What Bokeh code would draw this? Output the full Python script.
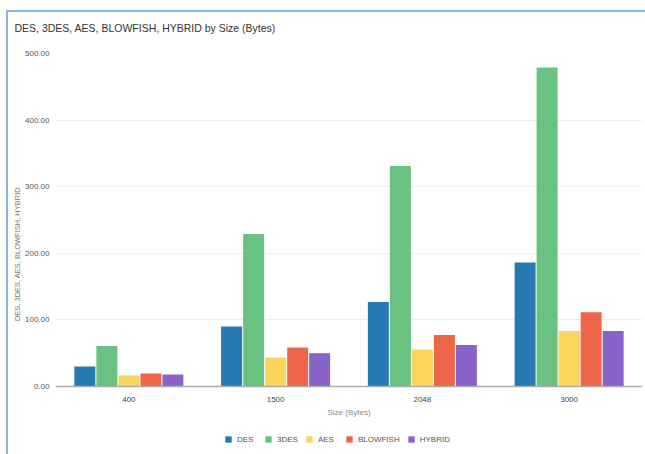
from bokeh.plotting import figure
from bokeh.models import (ColumnDataSource, FactorRange, NumeralTickFormatter, FixedTicker,
                          Legend, LegendItem)
from bokeh.transform import dodge
from bokeh.embed import file_html
from bokeh.resources import INLINE

sizes = ["400", "1500", "2048", "3000"]
des = [30, 90, 127, 186]
tdes = [61, 229, 331, 479]
aes = [16.5, 43.5, 55.5, 83.5]
blowfish = [19.5, 58.5, 77.5, 111.5]
hybrid = [18, 50, 62.5, 83.5]
series = ["DES", "3DES", "AES", "BLOWFISH", "HYBRID"]
colors = ["#2779b3", "#69c182", "#f9d55c", "#ee6649", "#8963c8"]
y_ticks = [0, 100, 200, 300, 400, 500]

src = ColumnDataSource(dict(x=sizes, DES=des, TDES=tdes, AES=aes, BLOWFISH=blowfish, HYBRID=hybrid))
cols = ["DES", "TDES", "AES", "BLOWFISH", "HYBRID"]

FONT = "Liberation Sans"
p = figure(frame_width=587, frame_height=401, x_range=FactorRange(*sizes), y_range=(-102.1, 500),
           output_backend="svg", toolbar_location=None,
           min_border_left=55, min_border_right=3, min_border_top=53, min_border_bottom=0)
line = "linear-gradient(#86b6e6, #86b6e6)"
p.styles = {"background": f"{line} 6px 10px / 2px 100% no-repeat, {line} 6px 10px / 100% 2px no-repeat, white"}
p.background_fill_color = "white"
p.border_fill_alpha = 0
p.outline_line_color = None

offsets = [-0.3, -0.15, 0.0, 0.15, 0.3]
items = []
for c, name, col, off in zip(cols, series, colors, offsets):
    r = p.vbar(x=dodge("x", off, range=p.x_range), top=c, width=0.143, source=src,
               fill_color=col, line_color=None)
    items.append(LegendItem(label=name, renderers=[r]))

p.title.text = "DES, 3DES, AES, BLOWFISH, HYBRID by Size (Bytes)"
p.title.text_font = FONT
p.title.text_font_size = "10.5px"
p.title.text_font_style = "normal"
p.title.text_color = "#333333"
p.title.offset = -41
p.title.standoff = 37
p.title.vertical_align = "middle"

p.xgrid.grid_line_color = None
p.ygrid.grid_line_color = "#eeeeee"
p.ygrid.grid_line_width = 1

p.yaxis.ticker = FixedTicker(ticks=y_ticks)
p.yaxis.formatter = NumeralTickFormatter(format="0.00")
p.yaxis.axis_line_color = None
p.yaxis.major_tick_line_color = None
p.yaxis.minor_tick_line_color = None
p.yaxis.major_label_text_font = FONT
p.yaxis.major_label_text_font_size = "8px"
p.yaxis.major_label_text_color = "#555555"
p.yaxis.major_label_standoff = 0
p.yaxis.axis_label = "DES, 3DES, AES, BLOWFISH, HYBRID"
p.yaxis.axis_label_text_font = FONT
p.yaxis.axis_label_text_font_size = "7.5px"
p.yaxis.axis_label_text_font_style = "normal"
p.yaxis.axis_label_text_color = "#777777"
p.yaxis.axis_label_standoff = 0

p.xaxis.fixed_location = 0
p.xaxis.axis_line_color = "#aaaaaa"
p.xaxis.axis_line_width = 1.5
p.xaxis.major_tick_line_color = None
p.xaxis.minor_tick_line_color = None
p.xaxis.major_label_text_font = FONT
p.xaxis.major_label_text_font_size = "8px"
p.xaxis.major_label_text_color = "#444444"
p.xaxis.major_label_standoff = 4
p.xaxis.axis_label = "Size (Bytes)"
p.xaxis.axis_label_text_font = FONT
p.xaxis.axis_label_text_font_size = "8px"
p.xaxis.axis_label_text_font_style = "normal"
p.xaxis.axis_label_text_color = "#888888"
p.xaxis.axis_label_standoff = 3

legend = Legend(items=items, orientation="horizontal", location=(169, 10),
                glyph_width=8, glyph_height=8, label_height=10, label_text_font=FONT,
                label_text_font_size="8px", label_text_color="#555555",
                spacing=7, label_standoff=5, padding=0, margin=0,
                border_line_color=None, background_fill_alpha=0)
p.add_layout(legend)

open("out.html", "w").write(file_html(p, INLINE))
